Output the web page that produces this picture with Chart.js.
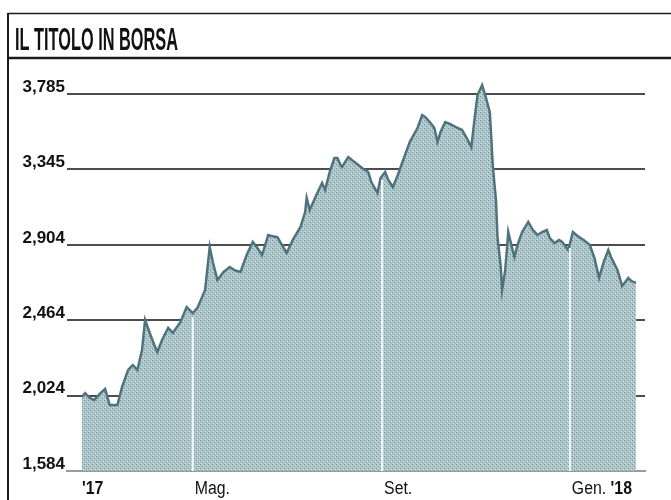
<!DOCTYPE html>
<html>
<head>
<meta charset="utf-8">
<script src="https://cdn.jsdelivr.net/npm/chart.js@4.4.0/dist/chart.umd.min.js"></script>
<style>
  html, body { margin: 0; padding: 0; background: #fff; }
  #wrap { width: 671px; height: 500px; }
</style>
</head>
<body>
<div id="wrap"><canvas id="borsaChart" width="671" height="500"></canvas></div>
<script>
const title = "IL TITOLO IN BORSA";

// giorni contati dal 1 gen 2017
const days = [48, 50, 53, 56, 60, 63, 66, 71, 74, 78, 81, 84, 87, 89, 92, 95, 97, 100, 104, 107,
  112, 116, 120, 123, 128, 131, 133, 136, 140, 144, 147, 151, 155, 159, 162, 165, 169, 171, 175, 178,
  181, 185, 190, 193, 194, 196, 200, 204, 206, 209, 212, 214, 216, 217, 221, 225, 230, 234, 236, 240,
  242, 245, 247, 250, 253, 256, 261, 266, 269, 271, 274, 277, 279, 281, 284, 287, 291, 295, 298, 301,
  303, 305, 308, 310, 313, 315, 317, 318, 320, 321, 323, 325, 327, 329, 331, 334, 338, 341, 344, 347,
  350, 352, 355, 358, 360, 364, 367, 370, 374, 378, 381, 384, 387, 390, 392, 396, 399, 403, 405, 408];

const prices = [2016, 2039, 2010, 1999, 2039, 2063, 1969, 1969, 2074, 2174, 2203, 2174, 2290, 2466, 2390, 2320, 2279, 2349, 2419, 2390,
  2454, 2541, 2506, 2536, 2641, 2892, 2804, 2699, 2746, 2775, 2757, 2746, 2845, 2921, 2886, 2845, 2962, 2956, 2950, 2903,
  2857, 2933, 3009, 3096, 3178, 3108, 3190, 3265, 3225, 3330, 3411, 3411, 3370, 3359, 3417, 3388, 3353, 3330, 3271, 3207,
  3295, 3330, 3283, 3242, 3306, 3382, 3505, 3586, 3662, 3651, 3621, 3586, 3505, 3563, 3621, 3610, 3592, 3575, 3528, 3475,
  3633, 3779, 3837, 3779, 3680, 3359, 3166, 2950, 2787, 2641, 2757, 2979, 2903, 2833, 2903, 2979, 3038, 2991, 2962, 2979,
  2991, 2944, 2915, 2933, 2921, 2874, 2979, 2956, 2933, 2903, 2828, 2711, 2804, 2874, 2828, 2757, 2664, 2711, 2693, 2682];

const yTicks = [1584, 2024, 2464, 2904, 3345, 3785];
const xTickDays = [48, 120, 243, 365];
const xLabels = ["'17", "Mag.", "Set.", "Gen. '18"];

const ctx = document.getElementById("borsaChart").getContext("2d");

// retino del riempimento
const tile = document.createElement("canvas");
tile.width = 4; tile.height = 4;
const tc = tile.getContext("2d");
tc.fillStyle = "#adc6ca"; tc.fillRect(0, 0, 4, 4);
tc.fillStyle = "#718f97"; tc.fillRect(0, 0, 1, 1); tc.fillRect(2, 2, 1, 1);
tc.fillStyle = "#cfdee0"; tc.fillRect(1, 3, 1, 1); tc.fillRect(3, 1, 1, 1);
const fillPattern = ctx.createPattern(tile, "repeat");

const framePlugin = {
  id: "frame",
  beforeDraw(chart) {
    const c = chart.ctx;
    c.save();
    c.fillStyle = "#fff";
    c.fillRect(0, 0, chart.width, chart.height);
    c.strokeStyle = "#1a1a1a";
    c.lineWidth = 1.5;
    c.beginPath(); c.moveTo(8, 13.5); c.lineTo(chart.width, 13.5); c.stroke();
    c.lineWidth = 2;
    c.beginPath(); c.moveTo(8, 13); c.lineTo(8, chart.height); c.stroke();
    c.lineWidth = 2.5;
    c.beginPath(); c.moveTo(8, 58); c.lineTo(chart.width, 58); c.stroke();
    c.font = "bold 31px 'Liberation Sans', Arial, sans-serif";
    const w = c.measureText(title).width;
    c.translate(15, 50);
    c.scale(163 / w, 1);
    c.fillStyle = "#111";
    c.textBaseline = "alphabetic";
    c.fillText(title, 0, 0);
    c.restore();
  }
};

// linee bianche dei mesi sopra l'area
const monthLines = {
  id: "monthLines",
  afterDatasetsDraw(chart) {
    const pts = chart.getDatasetMeta(0).data;
    const xs = chart.scales.x, area = chart.chartArea;
    const c = chart.ctx;
    c.save();
    c.strokeStyle = "rgba(255,255,255,0.9)";
    c.lineWidth = 2;
    xTickDays.slice(1).forEach(d => {
      const px = xs.getPixelForValue(d);
      let top = area.bottom;
      for (let i = 1; i < pts.length; i++) {
        if (pts[i].x >= px) {
          const a = pts[i - 1], b = pts[i];
          top = a.y + (b.y - a.y) * (px - a.x) / (b.x - a.x);
          break;
        }
      }
      c.beginPath(); c.moveTo(px, area.bottom); c.lineTo(px, top + 4); c.stroke();
    });
    c.restore();
  }
};

// etichette asse x, anno in grassetto, carattere stretto
const xLabelPlugin = {
  id: "xLabels",
  afterDraw(chart) {
    const c = chart.ctx, xs = chart.scales.x;
    const sx = 0.88;
    c.save();
    c.fillStyle = "#111";
    c.textBaseline = "alphabetic";
    c.textAlign = "left";
    xLabels.forEach((lab, i) => {
      let x = xs.getPixelForValue(xTickDays[i]) + (i ? 2 : 0);
      lab.split(" ").forEach(part => {
        c.font = (part.startsWith("'") ? "bold " : "") + "18px 'Liberation Sans', Arial, sans-serif";
        c.save();
        c.translate(x, 494);
        c.scale(sx, 1);
        c.fillText(part, 0, 0);
        c.restore();
        x += c.measureText(part + " ").width * sx;
      });
    });
    c.restore();
  }
};

new Chart(ctx, {
  type: "line",
  data: {
    datasets: [{
      data: days.map((d, i) => ({ x: d, y: prices[i] })),
      borderColor: "#4f737d",
      borderWidth: 2.5,
      backgroundColor: fillPattern,
      fill: "start",
      pointRadius: 0,
      tension: 0
    }]
  },
  options: {
    responsive: false,
    animation: false,
    layout: { padding: { top: 75, right: 26, left: 0, bottom: 0 } },
    plugins: { legend: { display: false }, tooltip: { enabled: false } },
    scales: {
      x: {
        type: "linear",
        min: 38.25,
        max: 413.85,
        grid: { display: false },
        border: { display: true, color: "#9a9a9a", width: 2 },
        ticks: { display: false },
        afterFit(s) { s.height = 29; }
      },
      y: {
        min: 1584,
        max: 3896,
        afterBuildTicks(s) { s.ticks = yTicks.map(v => ({ value: v })); },
        afterFit(s) { s.width = 67; },
        grid: {
          color: c => (c.tick && c.tick.value === 1584 ? "#9a9a9a" : "#4d4d4d"),
          lineWidth: 2,
          drawTicks: false
        },
        border: { display: false },
        ticks: {
          padding: 2,
          labelOffset: -7,
          color: "#111",
          font: { family: "'Liberation Sans', Arial, sans-serif", size: 17, weight: "bold" },
          callback: v => v.toLocaleString("en-US")
        }
      }
    }
  },
  plugins: [framePlugin, monthLines, xLabelPlugin]
});
</script>
</body>
</html>
